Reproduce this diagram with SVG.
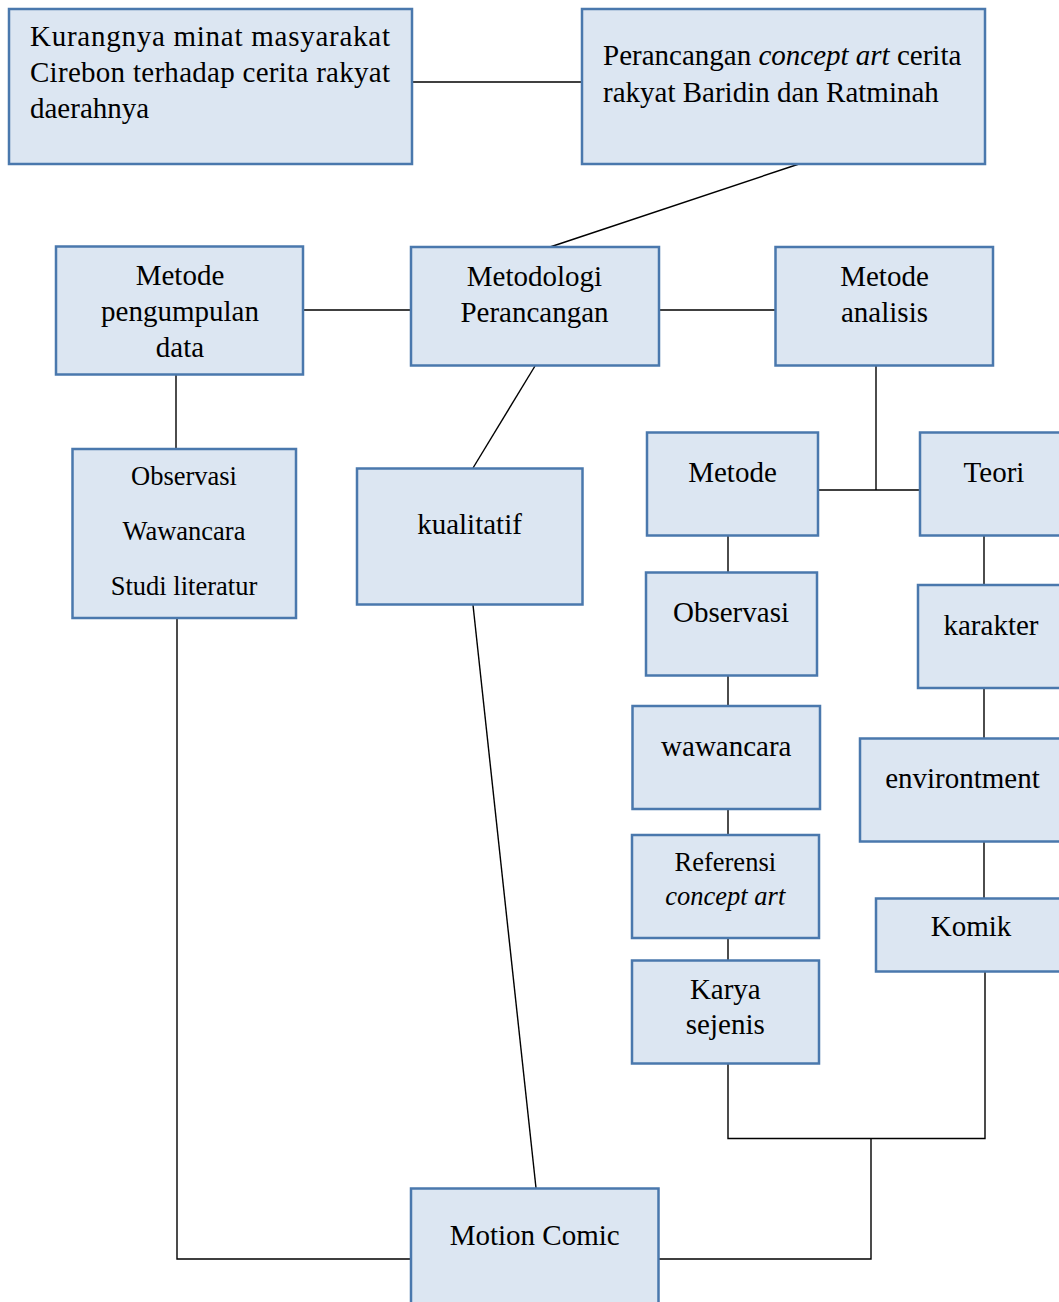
<svg xmlns="http://www.w3.org/2000/svg" width="1059" height="1302" viewBox="0 0 1059 1302">
<style>
.box{fill:#dce6f2;stroke:#4a78ad;stroke-width:2.5}
.t{font-family:"Liberation Serif","Times New Roman",serif;font-size:29px;fill:#000}
.s{font-size:26.5px}
.c{text-anchor:middle}
.i{font-style:italic}
.ln{fill:none;stroke:#000;stroke-width:1.4}
</style>
<rect width="1059" height="1302" fill="#fff"/>
<g id="connectors">
<line class="ln" x1="412" y1="82" x2="582" y2="82"/>
<line class="ln" x1="799" y1="164" x2="550" y2="247"/>
<line class="ln" x1="303" y1="310" x2="411" y2="310"/>
<line class="ln" x1="659" y1="310" x2="775" y2="310"/>
<line class="ln" x1="176" y1="375" x2="176" y2="449"/>
<line class="ln" x1="535" y1="366" x2="473" y2="468"/>
<polyline class="ln" points="876,366 876,490"/>
<line class="ln" x1="818" y1="490" x2="920" y2="490"/>
<line class="ln" x1="728" y1="536" x2="728" y2="572"/>
<line class="ln" x1="728" y1="676" x2="728" y2="706"/>
<line class="ln" x1="728" y1="809" x2="728" y2="835"/>
<line class="ln" x1="728" y1="938" x2="728" y2="961"/>
<line class="ln" x1="984" y1="536" x2="984" y2="585"/>
<line class="ln" x1="984" y1="688" x2="984" y2="739"/>
<line class="ln" x1="984" y1="842" x2="984" y2="898"/>
<polyline class="ln" points="728,1063 728,1138.5 985,1138.5 985,972"/>
<polyline class="ln" points="871,1138.5 871,1259 659,1259"/>
<polyline class="ln" points="177,618 177,1259 411,1259"/>
<line class="ln" x1="473" y1="605" x2="536" y2="1188"/>
</g>
<g id="n1"><rect class="box" x="9" y="9" width="403" height="155"/>
<text class="t" x="30" y="46" textLength="360" lengthAdjust="spacing">Kurangnya minat masyarakat</text>
<text class="t" x="30" y="82" textLength="360" lengthAdjust="spacing">Cirebon terhadap cerita rakyat</text>
<text class="t" x="30" y="118">daerahnya</text></g>
<g id="n2"><rect class="box" x="582" y="9" width="403" height="155"/>
<text class="t" x="603" y="65">Perancangan <tspan class="i">concept art</tspan> cerita</text>
<text class="t" x="603" y="101.5">rakyat Baridin dan Ratminah</text></g>
<g id="n3"><rect class="box" x="56" y="246.5" width="247" height="128"/>
<text class="t c" x="180" y="285">Metode</text>
<text class="t c" x="180" y="321">pengumpulan</text>
<text class="t c" x="180" y="357">data</text></g>
<g id="n4"><rect class="box" x="411" y="247" width="248" height="118.5"/>
<text class="t c" x="534.5" y="285.5">Metodologi</text>
<text class="t c" x="534.5" y="321.5">Perancangan</text></g>
<g id="n5"><rect class="box" x="775.5" y="247" width="217.5" height="118.5"/>
<text class="t c" x="884.5" y="285.5">Metode</text>
<text class="t c" x="884.5" y="321.5">analisis</text></g>
<g id="n6"><rect class="box" x="72.5" y="449" width="223.5" height="169"/>
<text class="t s c" x="184" y="485">Observasi</text>
<text class="t s c" x="184" y="540">Wawancara</text>
<text class="t s c" x="184" y="595">Studi literatur</text></g>
<g id="n7"><rect class="box" x="357" y="468.5" width="225.5" height="136"/>
<text class="t c" x="469.5" y="534">kualitatif</text></g>
<g id="n8"><rect class="box" x="647" y="432.5" width="171" height="103"/>
<text class="t c" x="732.5" y="481.5">Metode</text></g>
<g id="n9"><rect class="box" x="920" y="432.5" width="148" height="103"/>
<text class="t c" x="994" y="481.5">Teori</text></g>
<g id="n10"><rect class="box" x="646" y="572.5" width="171" height="103"/>
<text class="t c" x="731" y="621.5">Observasi</text></g>
<g id="n11"><rect class="box" x="918" y="585" width="148" height="103"/>
<text class="t c" x="991" y="635">karakter</text></g>
<g id="n12"><rect class="box" x="632.5" y="706" width="187.5" height="103"/>
<text class="t c" x="726.3" y="756">wawancara</text></g>
<g id="n13"><rect class="box" x="860" y="738.5" width="206" height="103"/>
<text class="t c" x="962.5" y="787.5">environtment</text></g>
<g id="n14"><rect class="box" x="632" y="835" width="187" height="103"/>
<text class="t s c" x="725.3" y="871">Referensi</text>
<text class="t s c i" x="725.3" y="905">concept art</text></g>
<g id="n15"><rect class="box" x="876" y="898.5" width="190" height="73"/>
<text class="t c" x="971" y="935.5">Komik</text></g>
<g id="n16"><rect class="box" x="632" y="960.5" width="187" height="103"/>
<text class="t c" x="725.3" y="998.5">Karya</text>
<text class="t c" x="725.3" y="1033.5">sejenis</text></g>
<g id="n17"><rect class="box" x="411" y="1188.5" width="247.5" height="125"/>
<text class="t c" x="534.7" y="1245">Motion Comic</text></g>
</svg>
